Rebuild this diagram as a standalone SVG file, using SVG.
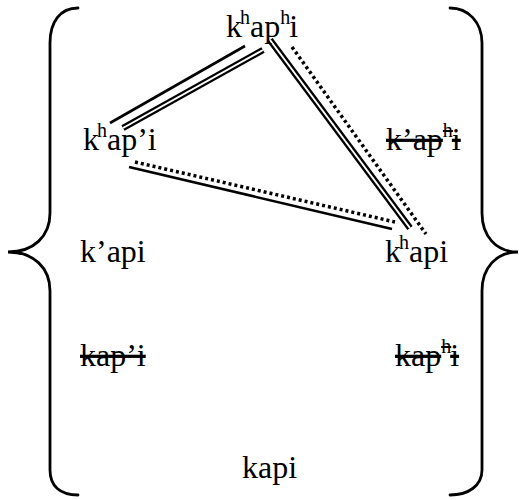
<svg xmlns="http://www.w3.org/2000/svg" width="519" height="500" viewBox="0 0 519 500">
<style>
.t{font-family:"Liberation Serif","Times New Roman",serif;font-size:32px;fill:#000}
.s{font-size:20px}
.x{text-decoration:line-through}
.br{fill:none;stroke:#000;stroke-width:2.8;stroke-linecap:round}
.solid{stroke:#000;stroke-width:2.6;fill:none}
.dblo{stroke:#000;stroke-width:6.5;fill:none}
.dbli{stroke:#fff;stroke-width:2;fill:none}
.dot{stroke:#000;stroke-width:3.5;stroke-dasharray:3 3;fill:none}
</style>
<rect width="519" height="500" fill="#fff"/>
<g id="braces">
<path class="br" d="M78,8 C60,8 50,22 50,43 L50,213 C50,236 34,252 8,252 C34,252 50,268 50,291 L50,470 C50,486 60,495 78,495"/>
<path class="br" d="M450,8 C468,8 482,22 482,43 L482,213 C482,236 496,252 518,252 C496,252 482,268 482,291 L482,470 C482,486 468,495 450,495"/>
</g>
<g id="connectors">
<line class="solid" x1="110" y1="123" x2="245" y2="46"/>
<line class="dblo" x1="123" y1="128" x2="263" y2="50"/>
<line class="dbli" x1="123" y1="128" x2="263" y2="50"/>
<line class="dblo" x1="270" y1="40" x2="410" y2="228"/>
<line class="dbli" x1="270" y1="40" x2="410" y2="228"/>
<line class="dot" x1="292" y1="47" x2="426" y2="234"/>
<line class="dot" x1="135" y1="162" x2="395" y2="222"/>
<line class="solid" x1="129" y1="167" x2="392" y2="229"/>
</g>
<g id="n-khaphi"><text class="t" x="226" y="37">k<tspan class="s" dx="-2" dy="-13">h</tspan><tspan dy="13">ap</tspan><tspan class="s" dy="-13">h</tspan><tspan dx="-1" dy="13">i</tspan></text></g>
<g id="n-khapi2"><text class="t" x="83" y="150">k<tspan class="s" dx="-2" dy="-13">h</tspan><tspan dy="13">ap’i</tspan></text></g>
<g id="n-kaphi-x"><text class="t x" x="386" y="150">k’ap<tspan class="s" dy="-13">h</tspan><tspan dx="-1" dy="13">i</tspan></text></g>
<g id="n-kapi2"><text class="t" x="80" y="262">k’api</text></g>
<g id="n-khapi"><text class="t" x="385" y="262">k<tspan class="s" dx="-2" dy="-13">h</tspan><tspan dy="13">api</tspan></text></g>
<g id="n-kapi3-x"><text class="t x" x="80" y="366">kap’i</text></g>
<g id="n-kaphi2-x"><text class="t x" x="395" y="366">kap<tspan class="s" dy="-13">h</tspan><tspan dx="-1" dy="13">i</tspan></text></g>
<g id="n-kapi"><text class="t" x="242" y="478">kapi</text></g>
</svg>
